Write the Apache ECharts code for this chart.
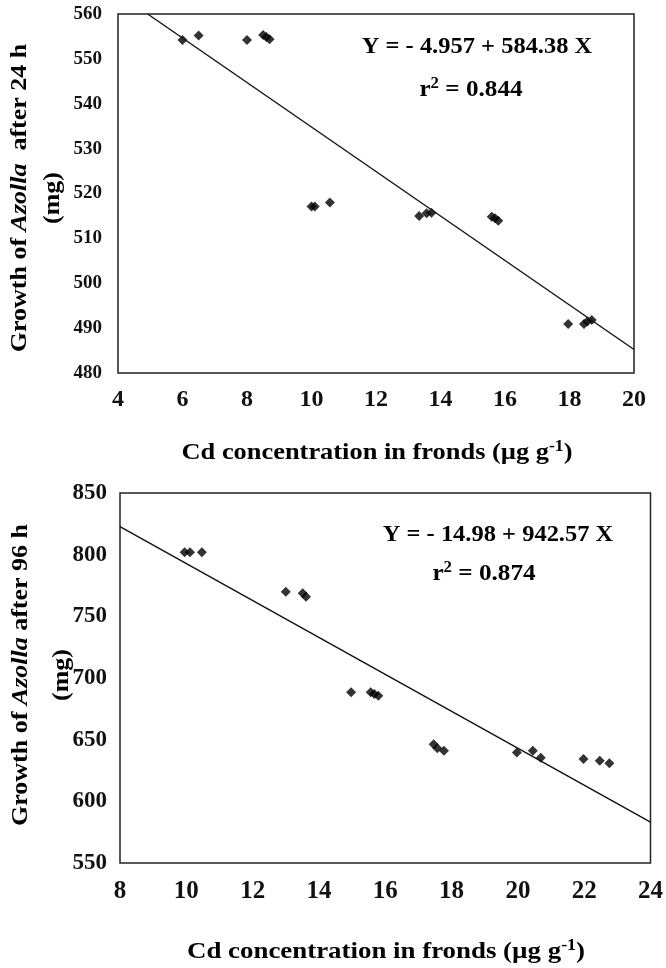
<!DOCTYPE html>
<html>
<head>
<meta charset="utf-8">
<script src="https://cdn.jsdelivr.net/npm/echarts@6/dist/echarts.min.js"></script>
<style>
  html, body { margin: 0; padding: 0; background: #fff; }
  #main { width: 666px; height: 968px; }
</style>
</head>
<body>
<div id="main"></div>
<script>
/* 24 h: Cd concentration (x) vs growth (y) */
var topX = [6.0, 6.5, 8.0, 8.5, 8.6, 8.7, 10.0, 10.1, 10.57, 13.34, 13.57, 13.72, 15.59, 15.69, 15.79, 17.96, 18.45, 18.55, 18.69];
var topY = [554.2, 555.2, 554.2, 555.3, 554.9, 554.4, 517.1, 517.1, 518.0, 515.0, 515.6, 515.7, 514.8, 514.5, 513.9, 490.9, 490.9, 491.5, 491.8];
var topFitX = [4.92, 20];
var topFitY = [560, 485.24];

/* 96 h */
var botX = [9.95, 10.11, 10.47, 13.0, 13.51, 13.61, 14.97, 15.56, 15.67, 15.79, 17.46, 17.57, 17.77, 19.97, 20.45, 20.69, 21.98, 22.47, 22.76];
var botY = [802, 802, 802, 770, 768.7, 765.9, 688.4, 688.4, 687, 685.7, 646.2, 643, 641.1, 639.5, 641.1, 635.4, 634.3, 632.9, 630.8];
var botFitX = [8, 24];
var botFitY = [822.7, 583.1];

var topXRange = [4, 20, 2];
var topYRange = [480, 560, 10];
var botXRange = [8, 24, 2];
var botYRange = [550, 850, 50];

var serif = '"Liberation Serif", "DejaVu Serif", serif';

function pairs(xs, ys) {
    return xs.map(function (x, i) { return [x, ys[i]]; });
}

function valueAxis(range, idx, size, margin) {
    return {
        type: 'value',
        gridIndex: idx,
        min: range[0],
        max: range[1],
        interval: range[2],
        axisLine: { show: false },
        axisTick: { show: false },
        splitLine: { show: false },
        axisLabel: {
            color: '#111',
            fontFamily: serif,
            fontSize: size,
            fontWeight: 'bold',
            margin: margin
        }
    };
}

var richText = {
    n: { fontFamily: serif, fontSize: 23, fontWeight: 'bold', color: '#1a1a1a' },
    i: { fontFamily: serif, fontSize: 23, fontWeight: 'bold', fontStyle: 'italic', color: '#1a1a1a' },
    e: { fontFamily: serif, fontSize: 24, fontWeight: 'bold', color: '#1a1a1a', lineHeight: 28 },
    s: { fontFamily: serif, fontSize: 16, fontWeight: 'bold', color: '#1a1a1a', verticalAlign: 'top', lineHeight: 28 },
    x: { fontFamily: serif, fontSize: 24, fontWeight: 'bold', color: '#1a1a1a', lineHeight: 28 },
    xs: { fontFamily: serif, fontSize: 16, fontWeight: 'bold', color: '#1a1a1a', verticalAlign: 'top', lineHeight: 28 }
};

function label(x, y, text, rot, sx, lh) {
    var rich = richText;
    if (lh) {
        rich = {};
        Object.keys(richText).forEach(function (k) {
            rich[k] = Object.assign({}, richText[k], { lineHeight: lh });
        });
    }
    return {
        type: 'text',
        x: x,
        y: y,
        rotation: rot || 0,
        scaleX: sx || 1,
        style: { text: text, rich: rich, align: 'center', verticalAlign: 'middle' }
    };
}

var xTitle = '{x|Cd concentration in fronds (µg g}{xs|-1}{x|)}';

var option = {
    animation: false,
    backgroundColor: '#fff',
    grid: [
        { left: 118, top: 14, width: 516, height: 359, show: true, borderColor: '#222', borderWidth: 1.5 },
        { left: 120, top: 493, width: 532, height: 370, show: true, borderColor: '#222', borderWidth: 1.5 }
    ],
    xAxis: [valueAxis(topXRange, 0, 24, 15), valueAxis(botXRange, 1, 25, 16)],
    yAxis: [valueAxis(topYRange, 0, 19, 16), valueAxis(botYRange, 1, 23, 13)],
    series: [
        {
            type: 'scatter', xAxisIndex: 0, yAxisIndex: 0,
            symbol: 'diamond', symbolSize: 10,
            itemStyle: { color: '#000' },
            data: pairs(topX, topY)
        },
        {
            type: 'line', xAxisIndex: 0, yAxisIndex: 0,
            symbol: 'none', lineStyle: { color: '#111', width: 1.4 },
            data: pairs(topFitX, topFitY)
        },
        {
            type: 'scatter', xAxisIndex: 1, yAxisIndex: 1,
            symbol: 'diamond', symbolSize: 10,
            itemStyle: { color: '#000' },
            data: pairs(botX, botY)
        },
        {
            type: 'line', xAxisIndex: 1, yAxisIndex: 1,
            symbol: 'none', lineStyle: { color: '#111', width: 1.4 },
            data: pairs(botFitX, botFitY)
        }
    ],
    graphic: [
        label(477, 47, '{e|Y = - 4.957 + 584.38 X}', 0, 1.02),
        label(471, 90, '{e|r}{s|2}{e| = 0.844}', 0, 1.05),
        label(377, 453, xTitle, 0, 1.1),
        label(37, 198, '{n|Growth of }{i|Azolla}{n|  after 24 h}\n{n|(mg)}', Math.PI / 2, 1.13, 33),

        label(498, 535, '{e|Y = - 14.98 + 942.57 X}', 0, 1.02),
        label(484, 574, '{e|r}{s|2}{e| = 0.874}', 0, 1.05),
        label(386, 952, xTitle, 0, 1.12),
        label(42, 675, '{n|Growth of }{i|Azolla}{n| after 96 h}\n{n|(mg)}', Math.PI / 2, 1.13, 41)
    ]
};

var myChart = echarts.init(document.getElementById('main'));
myChart.setOption(option);
</script>
</body>
</html>
